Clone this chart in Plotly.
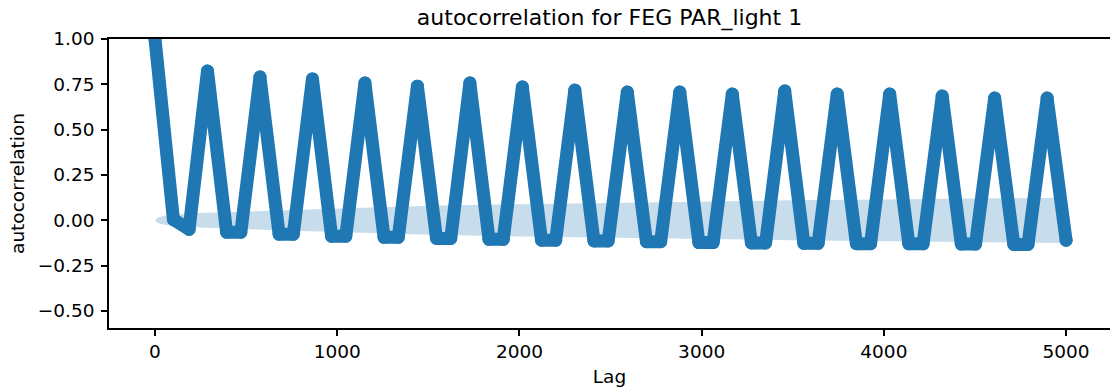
import plotly.graph_objects as go

# ---- data ----
start_lags = [0, 101, 187]
start_vals = [1.0, 0.005, -0.05]

peak_lags = [288, 576, 864, 1152, 1440, 1728, 2016, 2304, 2592, 2880,
             3168, 3456, 3744, 4032, 4320, 4608, 4896]
peak_vals = [0.823, 0.79, 0.78, 0.757, 0.74, 0.757, 0.735, 0.718, 0.707, 0.707,
             0.696, 0.713, 0.696, 0.696, 0.685, 0.674, 0.674]

trough_start_lags = [393, 681, 969, 1257, 1545, 1833, 2121, 2409, 2697, 2985,
                     3273, 3561, 3849, 4137, 4425, 4713]
trough_end_lags = [471, 759, 1047, 1335, 1623, 1911, 2199, 2487, 2775, 3063,
                   3351, 3639, 3927, 4215, 4503, 4791]
trough_vals = [-0.066, -0.077, -0.088, -0.094, -0.100, -0.105, -0.110, -0.114,
               -0.118, -0.123, -0.125, -0.127, -0.129, -0.130, -0.131, -0.133]

end_lag = 5000
end_val = -0.11

band_lags = [0, 10, 30, 60, 120, 250, 630, 1000, 1500, 2000, 2500, 3000, 3500, 4000, 4500, 5000]
band_half = [0.0, 0.012, 0.02, 0.026, 0.032, 0.04, 0.053, 0.065, 0.08, 0.089,
             0.097, 0.104, 0.11, 0.115, 0.12, 0.125]

x_ticks = [0, 1000, 2000, 3000, 4000, 5000]
x_ticktext = ["0", "1000", "2000", "3000", "4000", "5000"]
y_ticks = [-0.5, -0.25, 0.0, 0.25, 0.5, 0.75, 1.0]
y_ticktext = ["\u22120.50", "\u22120.25", "0.00", "0.25", "0.50", "0.75", "1.00"]

# ---- assemble the ACF polyline ----
lags = list(start_lags)
vals = list(start_vals)
for i in range(len(peak_lags)):
    lags.append(peak_lags[i]); vals.append(peak_vals[i])
    if i < len(trough_vals):
        lags.append(trough_start_lags[i]); vals.append(trough_vals[i])
        lags.append(trough_end_lags[i]); vals.append(trough_vals[i])
lags.append(end_lag); vals.append(end_val)

BLUE = "#1f77b4"
FONT = "DejaVu Sans"

fig = go.Figure()
fig.add_trace(go.Scatter(x=band_lags, y=[-h for h in band_half], mode="lines",
                         line=dict(width=0, color="rgba(0,0,0,0)"),
                         hoverinfo="skip", showlegend=False))
fig.add_trace(go.Scatter(x=band_lags, y=band_half, mode="lines",
                         line=dict(width=0, color="rgba(0,0,0,0)"),
                         fill="tonexty", fillcolor="rgba(31,119,180,0.25)",
                         hoverinfo="skip", showlegend=False))
fig.add_trace(go.Scatter(x=lags, y=vals, mode="lines+markers",
                         line=dict(color=BLUE, width=13),
                         marker=dict(color=BLUE, size=13, line=dict(width=0)),
                         showlegend=False))

axis_common = dict(showgrid=False, zeroline=False, showline=True, linecolor="black",
                   linewidth=1.5, ticks="outside", ticklen=6, tickwidth=1.5,
                   tickcolor="black", tickfont=dict(family=FONT, size=18.5, color="black"))

fig.update_layout(
    width=1110, height=392,
    margin=dict(l=109, r=0, t=39, b=64),
    paper_bgcolor="white", plot_bgcolor="white",
    font=dict(family=FONT, color="black"),
    title=dict(text="autocorrelation for FEG PAR_light 1", x=0.5, xref="paper",
               xanchor="center", y=1 - 17 / 392, yref="container", yanchor="middle",
               font=dict(family=FONT, size=22, color="black")),
    xaxis=dict(range=[-252.5, 5241], tickvals=x_ticks, ticktext=x_ticktext,
               mirror=True, title=dict(text="Lag", font=dict(family=FONT, size=18.5, color="black"),
                                       standoff=9),
               **axis_common),
    yaxis=dict(range=[-0.594, 1.0], tickvals=y_ticks, ticktext=y_ticktext,
               mirror=False, ticklabelstandoff=3,
               title=dict(text="autocorrelation", font=dict(family=FONT, size=18.5, color="black"),
                          standoff=8),
               **axis_common),
)

round_joins = """
document.querySelectorAll('.scatterlayer path.js-line').forEach(function(p){
  p.style.strokeLinejoin = 'round';
  p.style.strokeLinecap = 'round';
});
"""
fig.write_html("out.html", post_script=round_joins)
